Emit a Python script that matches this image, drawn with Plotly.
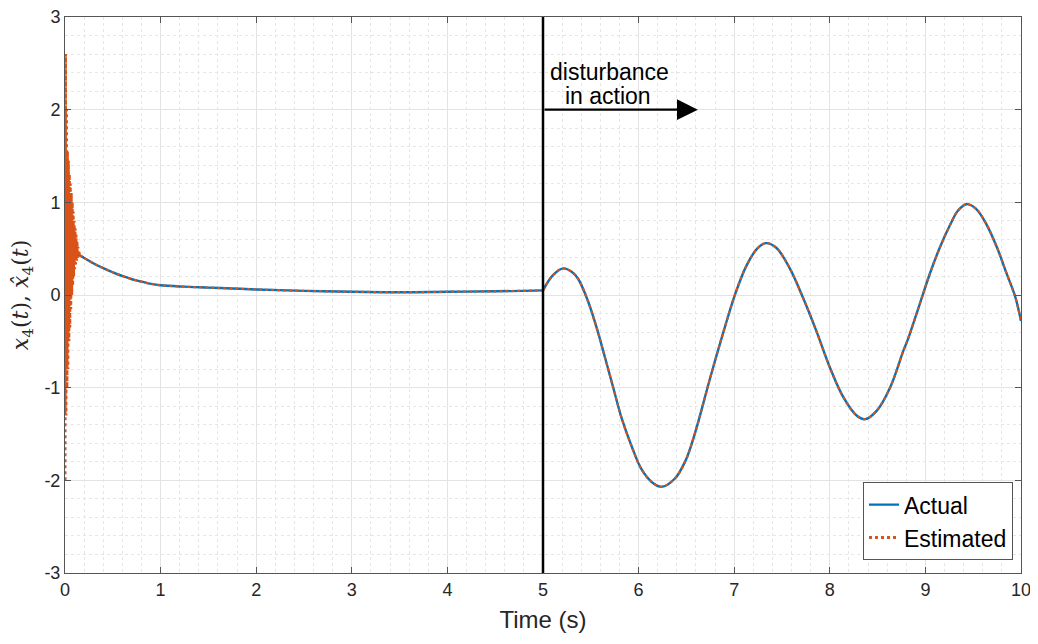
import plotly.graph_objects as go

# ---- data ----
# actual state before the disturbance
t_pre = [0, 0.05, 0.1, 0.15, 0.2, 0.3, 0.4, 0.5, 0.6, 0.7, 0.8, 0.9, 1.0, 1.25, 1.5, 1.75,
         2.0, 2.5, 3.0, 3.5, 4.0, 4.5, 4.8, 5.0]
x_pre = [0.38, 0.42, 0.45, 0.43, 0.40, 0.34, 0.29, 0.245, 0.205, 0.17, 0.145, 0.12, 0.105,
         0.09, 0.08, 0.07, 0.06, 0.045, 0.035, 0.03, 0.035, 0.04, 0.045, 0.05]
# actual state after the disturbance
t_post = [5.0, 5.1, 5.21, 5.3, 5.37, 5.47, 5.56, 5.65, 5.74, 5.82, 5.93, 6.03, 6.14, 6.24,
          6.38, 6.49, 6.59, 6.75, 6.89, 7.01, 7.13, 7.24, 7.33, 7.44, 7.58, 7.72, 7.86,
          8.0, 8.14, 8.28, 8.37, 8.49, 8.63, 8.77, 8.82, 8.94, 9.05, 9.15, 9.26, 9.34,
          9.43, 9.53, 9.64, 9.75, 9.85, 9.94, 10.0]
x_post = [0.05, 0.21, 0.287, 0.25, 0.17, -0.065, -0.35, -0.68, -1.02, -1.32, -1.64, -1.88,
          -2.02, -2.07, -1.98, -1.79, -1.49, -0.89, -0.39, 0.01, 0.32, 0.50, 0.56, 0.51,
          0.29, -0.03, -0.39, -0.78, -1.10, -1.30, -1.34, -1.25, -1.0, -0.60, -0.47, -0.10,
          0.24, 0.51, 0.76, 0.91, 0.98, 0.93, 0.76, 0.51, 0.23, -0.02, -0.28]

# estimator transient (fast oscillation at the start)
t_est0 = [0, 0.005, 0.01, 0.015, 0.02, 0.025, 0.03, 0.035, 0.04, 0.045, 0.05, 0.055, 0.06,
          0.065, 0.07, 0.075, 0.08, 0.085, 0.09, 0.095, 0.1, 0.105, 0.11, 0.115, 0.12,
          0.125, 0.13, 0.135, 0.14, 0.145, 0.15]
x_est0 = [-2.0, 2.6, -1.3, 2.0, -1.0, 1.55, -0.8, 1.45, -0.5, 1.3, -0.35, 1.2, -0.15, 1.1,
          0.0, 1.0, 0.1, 0.9, 0.2, 0.8, 0.28, 0.72, 0.33, 0.65, 0.37, 0.58, 0.40, 0.52,
          0.42, 0.48, 0.43]

x_ticks = list(range(0, 11))
y_ticks = [-3, -2, -1, 0, 1, 2, 3]
y_ticktext = ["-3", "-2", "-1", "0", "1", "2", "3"]

t_dist = 5
arrow_end = 6.62
arrow_y = 2
label_lines = ["disturbance", "in action"]
label_x = [5.70, 5.68]
label_y = [2.405, 2.15]

BLUE = "#0072BD"
ORANGE = "#D95319"
AXC = "#262626"
FONT = "Liberation Sans, Arial, Helvetica, sans-serif"

# after the transient the estimate follows the actual state
i0 = t_pre.index(0.15)
t_est1 = t_pre[i0:]
x_est1 = x_pre[i0:]

fig = go.Figure()
blue_line = dict(color=BLUE, width=2.4, shape="spline", smoothing=1.0)
orange_line = dict(color=ORANGE, width=2.2, dash="dot", shape="spline", smoothing=1.0)
fig.add_trace(go.Scatter(x=t_pre, y=x_pre, mode="lines", name="Actual", line=blue_line,
                         legendgroup="a"))
fig.add_trace(go.Scatter(x=t_post, y=x_post, mode="lines", name="Actual", line=blue_line,
                         legendgroup="a", showlegend=False))
fig.add_trace(go.Scatter(x=t_est0, y=x_est0, mode="lines", name="Estimated",
                         line=dict(color=ORANGE, width=3, dash="dot"), legendgroup="e"))
fig.add_trace(go.Scatter(x=t_est1, y=x_est1, mode="lines", name="Estimated", showlegend=False,
                         line=orange_line, legendgroup="e"))
fig.add_trace(go.Scatter(x=t_post, y=x_post, mode="lines", name="Estimated", showlegend=False,
                         line=orange_line, legendgroup="e"))

fig.add_shape(type="line", x0=t_dist, x1=t_dist, y0=-3, y1=3, xref="x", yref="y",
              line=dict(color="black", width=2.5))
fig.add_annotation(x=arrow_end, y=arrow_y, ax=t_dist, ay=arrow_y, xref="x", yref="y",
                   axref="x", ayref="y", text="", showarrow=True, arrowhead=2,
                   arrowsize=1.9, arrowwidth=2.2, arrowcolor="black")
for txt, lx, ly in zip(label_lines, label_x, label_y):
    fig.add_annotation(x=lx, y=ly, xref="x", yref="y", text=txt, showarrow=False,
                       font=dict(family=FONT, size=23, color="black"))

axis_common = dict(showline=True, linecolor="#555555", linewidth=1, mirror="ticks",
                   ticks="inside", ticklen=6, tickcolor="#555555", showgrid=True,
                   gridcolor="#e3e3e3", gridwidth=1, zeroline=False, automargin=False,
                   ticklabeloverflow="allow",
                   tickfont=dict(family=FONT, size=18, color=AXC),
                   minor=dict(dtick=0.2, showgrid=True, gridcolor="#e6e6e6",
                              griddash="dot", gridwidth=1, ticks=""))

fig.update_xaxes(range=[0, 10], tickvals=x_ticks, **axis_common,
                 title=dict(text="Time (s)", font=dict(family=FONT, size=24, color=AXC),
                            standoff=12))
fig.update_yaxes(range=[-3, 3], tickvals=y_ticks, ticktext=y_ticktext, **axis_common,
                 title=dict(text="<i>x</i><sub>4</sub>(<i>t</i>), <i>x̂</i><sub>4</sub>(<i>t</i>)",
                            font=dict(family="DejaVu Serif, Liberation Serif, serif",
                                      size=22, color=AXC), standoff=14))

# the page body adds an 8px offset, so the figure is 8px smaller and margins shifted
fig.update_layout(
    width=1030, height=636,
    margin=dict(l=57, r=17, t=9, b=71),
    paper_bgcolor="white", plot_bgcolor="white",
    legend=dict(x=0.9916, y=0.023, xanchor="right", yanchor="bottom",
                bgcolor="white", bordercolor="#555555", borderwidth=1,
                font=dict(family=FONT, size=23, color="black"),
                itemwidth=30, tracegroupgap=0),
    showlegend=True,
)

fig.write_html("out.html")
